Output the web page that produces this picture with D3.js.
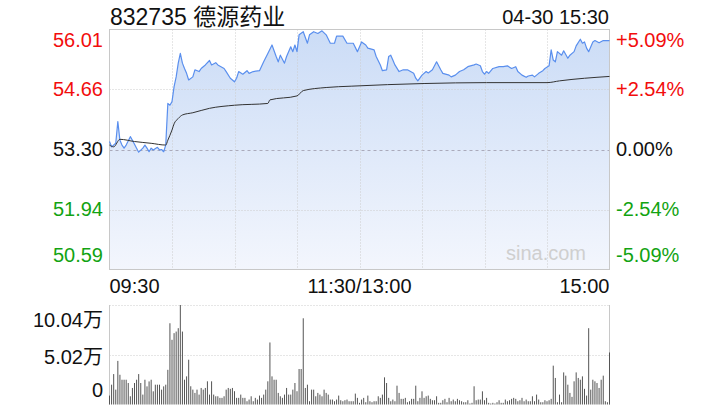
<!DOCTYPE html>
<html>
<head>
<meta charset="utf-8">
<script src="https://cdn.jsdelivr.net/npm/d3@7"></script>
<style>
  html, body { margin: 0; padding: 0; background: #fff; }
  svg { display: block; }
  text { font-family: "Liberation Sans", Arial, "Noto Sans CJK SC", sans-serif; }
</style>
</head>
<body>
<svg id="chart" width="720" height="420"></svg>
<script>
// ---------- data ----------
const stockTitle = "832735 德源药业";
const stampText = "04-30 15:30";

const priceTicks = [56.01, 54.66, 53.30, 51.94, 50.59];
const pctLabels = ["+5.09%", "+2.54%", "0.00%", "-2.54%", "-5.09%"];
const timeTickMinutes = [0, 120, 240];
const timeLabels = ["09:30", "11:30/13:00", "15:00"];
const volTicks = [10.04, 5.02, 0];
const volLabels = ["10.04万", "5.02万", "0"];

// minute offsets from 09:30 (trading minutes) and prices
const priceMinutes = [0,1,3,4,5,6,7,8,10,11,13,14,16,17,18,19,20,21,23,24,25,26,27,28,29,30,31,32,33,34,35,36,37,38,40,41,43,44,45,46,48,49,51,52,55,56,58,60,61,62,64,66,67,69,72,74,76,78,80,81,82,84,85,87,88,89,90,91,93,95,96,98,100,102,104,106,108,109,112,114,117,119,121,123,124,127,128,130,131,133,134,135,136,137,139,141,143,146,147,148,150,152,153,155,156,157,159,160,163,164,166,168,170,172,175,176,178,179,180,181,182,184,187,189,191,193,195,196,198,200,201,203,204,206,208,209,211,212,213,214,215,217,218,220,221,223,224,226,227,228,229,230,232,233,235,237,240];
const prices = [53.48,53.36,53.44,53.93,53.51,53.40,53.33,53.40,53.59,53.51,
  53.33,53.24,53.33,53.40,53.33,53.25,53.33,53.29,53.35,53.29,
  53.30,53.25,53.40,54.34,54.30,54.38,54.72,54.94,55.25,55.47,
  55.25,55.13,55.02,54.87,54.94,55.10,55.06,55.13,55.17,55.21,
  55.31,55.21,55.26,55.21,55.13,55.06,54.91,54.83,54.91,55.06,
  55.00,55.08,55.02,55.06,55.08,55.28,55.47,55.66,55.40,55.28,
  55.43,55.25,55.40,55.62,55.51,55.66,55.51,55.89,55.96,55.70,
  55.89,55.96,55.92,55.98,55.89,55.70,55.70,55.86,55.86,55.70,
  55.70,55.51,55.73,55.66,55.59,55.55,55.40,55.21,55.08,55.10,
  55.40,55.43,55.32,55.21,55.06,55.10,55.10,55.02,54.91,54.85,
  54.98,55.06,55.03,55.10,55.19,55.28,55.10,55.02,54.98,54.94,
  54.98,55.06,55.10,55.17,55.21,55.23,55.19,55.06,55.00,55.06,
  55.02,55.13,55.17,55.17,55.19,55.13,55.17,55.06,54.98,54.93,
  54.96,54.98,54.94,55.02,55.08,55.13,55.19,55.55,55.32,55.28,
  55.51,55.43,55.53,55.36,55.43,55.51,55.64,55.79,55.70,55.73,
  55.59,55.51,55.73,55.76,55.71,55.76,55.76];

const avgMinutes = [0,2,5,12,20,27,28,30,31,33,35,40,48,60,76,77,90,93,104,116,151,181,210,216,240];
const avgPrices = [53.40,53.36,53.53,53.48,53.44,53.40,53.51,53.74,53.88,54.00,54.08,54.13,54.23,54.30,54.34,54.42,54.51,54.63,54.70,54.73,54.79,54.81,54.81,54.85,54.95];

// volume per minute, in 万 shares, minutes 0..240
const volumes = [
  0.90,2.00,3.07,1.50,4.40,3.00,2.50,2.50,2.50,2.17,
  0.83,1.67,2.17,2.50,3.07,2.17,1.00,2.50,1.83,2.33,
  2.50,1.33,2.00,2.00,2.00,1.50,1.83,2.00,3.50,8.20,
  6.53,7.20,7.36,7.70,10.04,7.36,2.50,2.84,4.52,1.84,
  1.50,1.17,1.50,1.00,1.67,1.50,1.67,2.34,1.00,
  2.34,1.00,0.83,0.83,0.67,0.67,0.83,1.50,1.67,
  1.58,1.67,1.34,0.67,0.67,1.00,0.67,0.67,0.33,0.50,
  0.83,0.33,0.67,0.50,0.90,0.67,1.00,1.50,2.34,6.26,
  2.84,2.50,2.50,1.17,0.83,0.67,1.00,1.67,1.00,
  1.00,1.50,2.17,1.34,3.58,3.58,8.70,1.67,2.00,0.33,
  1.50,1.50,0.83,1.17,1.00,0.83,1.50,1.17,1.00,0.50,
  0.50,0.33,0.50,0.90,0.43,0.33,0.43,0.50,0.33,0.33,
  0.33,1.10,0.67,0.17,
  0.50,0.67,0.23,0.90,0.33,0.23,0.33,0.33,0.83,0.67,
  1.00,2.74,2.17,0.67,0.33,0.50,0.33,1.90,1.17,0.57,
  0.57,0.67,0.23,0.33,0.57,0.57,1.90,0.33,0.67,1.33,
  0.67,0.83,0.90,0.57,0.43,0.43,0.83,0.17,0.17,0.43,
  0.57,0.23,0.67,0.33,0.50,0.33,0.57,0.43,0.33,
  0.23,0.23,0.43,0.10,0.17,1.84,0.43,0.50,0.50,1.33,
  0.43,0.67,0.17,0.10,0.17,0.10,0.23,0.43,0.17,0.17,
  0.50,0.33,0.43,0.57,0.67,0.57,0.33,0.43,0.67,
  0.33,0.50,0.33,0.33,0.83,0.33,1.00,0.50,0.23,
  0.23,0.43,0.33,0.43,0.57,3.92,2.68,0.23,1.00,
  0.23,3.24,2.91,2.00,1.17,0.77,2.34,3.24,2.68,2.50,
  2.84,1.58,0.90,7.70,1.50,2.50,2.34,2.17,1.67,2.50,
  2.91,0.33,0.23,5.25];

// ---------- layout ----------
const svg = d3.select("#chart");
const L = 109.5, R = 609.5, T = 29.5, B = 269.5;
const VT = 305, VB = 404.5;
const font = 20;
const red = "#f20d0d", green = "#12a312", black = "#111";

const x = d3.scaleLinear().domain([0, 240]).range([L, R]);
const y = d3.scaleLinear().domain([50.59, 56.01]).range([B, T]);
const yv = d3.scaleLinear().domain([0, 10.04]).range([VB, VT]);

// gradient fill
const defs = svg.append("defs");
const grad = defs.append("linearGradient").attr("id", "fillGrad")
  .attr("gradientUnits", "userSpaceOnUse").attr("x1", 0).attr("x2", 0).attr("y1", T).attr("y2", B);
grad.append("stop").attr("offset", "0%").attr("stop-color", "#cbdcf6");
grad.append("stop").attr("offset", "100%").attr("stop-color", "#f3f6fd");

// area under price line
const pricePts = priceMinutes.map((m, i) => [m, prices[i]]);
svg.append("path").datum(pricePts)
  .attr("fill", "url(#fillGrad)")
  .attr("d", d3.area().x(d => x(d[0])).y0(B).y1(d => y(d[1])));

// grid: horizontal
priceTicks.forEach((p, i) => {
  if (i === 0 || i === priceTicks.length - 1) return;
  svg.append("line").attr("x1", L).attr("x2", R).attr("y1", Math.round(y(p)) + 0.5).attr("y2", Math.round(y(p)) + 0.5)
    .attr("stroke", i === 2 ? "#aab" : "#ccc").attr("stroke-width", 1)
    .attr("stroke-dasharray", i === 2 ? "3,3" : "1,2");
});
// grid: vertical every 30 minutes
d3.range(30, 240, 30).forEach(m => {
  const xx = Math.round(x(m)) + 0.5;
  svg.append("line").attr("x1", xx).attr("x2", xx).attr("y1", T).attr("y2", B)
    .attr("stroke", "#ccc").attr("stroke-dasharray", "1,2");
});

// frame
svg.append("rect").attr("x", L).attr("y", T).attr("width", R - L).attr("height", B - T)
  .attr("fill", "none").attr("stroke", "#c8c8c8");

// watermark
svg.append("text").attr("x", 586).attr("y", 260).attr("text-anchor", "end")
  .attr("font-size", font).attr("fill", "#cfcfcf").text("sina.com");

// price line
svg.append("path").datum(pricePts)
  .attr("fill", "none").attr("stroke", "#5a8fee").attr("stroke-width", 1.2)
  .attr("stroke-linejoin", "round")
  .attr("d", d3.line().x(d => x(d[0])).y(d => y(d[1])));

// avg line
const avgPts = avgMinutes.map((m, i) => [m, avgPrices[i]]);
svg.append("path").datum(avgPts)
  .attr("fill", "none").attr("stroke", "#333").attr("stroke-width", 1)
  .attr("d", d3.line().curve(d3.curveMonotoneX).x(d => x(d[0])).y(d => y(d[1])));

// price labels
function labelY(v, i, n) {
  const yy = y(v);
  if (i === 0) return yy + 17;
  if (i === n - 1) return yy - 8;
  return yy + 6.5;
}
priceTicks.forEach((p, i) => {
  const col = i < 2 ? red : (i === 2 ? black : green);
  svg.append("text").attr("x", 103).attr("y", labelY(p, i, priceTicks.length))
    .attr("text-anchor", "end").attr("font-size", font).attr("fill", col)
    .text(p.toFixed(2));
  svg.append("text").attr("x", 616).attr("y", labelY(p, i, priceTicks.length))
    .attr("text-anchor", "start").attr("font-size", font).attr("fill", col)
    .text(pctLabels[i]);
});

// time labels
timeTickMinutes.forEach((m, i) => {
  svg.append("text").attr("x", x(m)).attr("y", 293)
    .attr("text-anchor", i === 0 ? "start" : (i === timeTickMinutes.length - 1 ? "end" : "middle"))
    .attr("font-size", font).attr("fill", black).text(timeLabels[i]);
});

// title
svg.append("text").attr("x", 110).attr("y", 25).attr("font-size", 23).attr("fill", black).text(stockTitle);
svg.append("text").attr("x", 609).attr("y", 23.5).attr("text-anchor", "end")
  .attr("font-size", font).attr("fill", black).text(stampText);

// volume panel grid
[VT, yv(5.02)].forEach(v => {
  svg.append("line").attr("x1", L).attr("x2", R).attr("y1", Math.round(v) + 0.5).attr("y2", Math.round(v) + 0.5)
    .attr("stroke", "#ccc").attr("stroke-dasharray", "1,2");
});
[L, R].forEach(xx => {
  svg.append("line").attr("x1", xx).attr("x2", xx).attr("y1", VT).attr("y2", VB)
    .attr("stroke", "#c8c8c8");
});

// volume bars
svg.append("g").selectAll("rect").data(volumes).join("rect")
  .attr("x", (d, i) => x(i) - 0.5)
  .attr("width", 1)
  .attr("y", d => yv(d))
  .attr("height", d => VB - yv(d))
  .attr("fill", "#555");

// volume labels
const volLabelY = [VT + 21.7, yv(5.02) + 9.3, VB - 7.5];
volTicks.forEach((v, i) => {
  svg.append("text").attr("x", 103).attr("y", volLabelY[i]).attr("text-anchor", "end")
    .attr("font-size", font).attr("fill", black).text(volLabels[i]);
});
</script>
</body>
</html>
